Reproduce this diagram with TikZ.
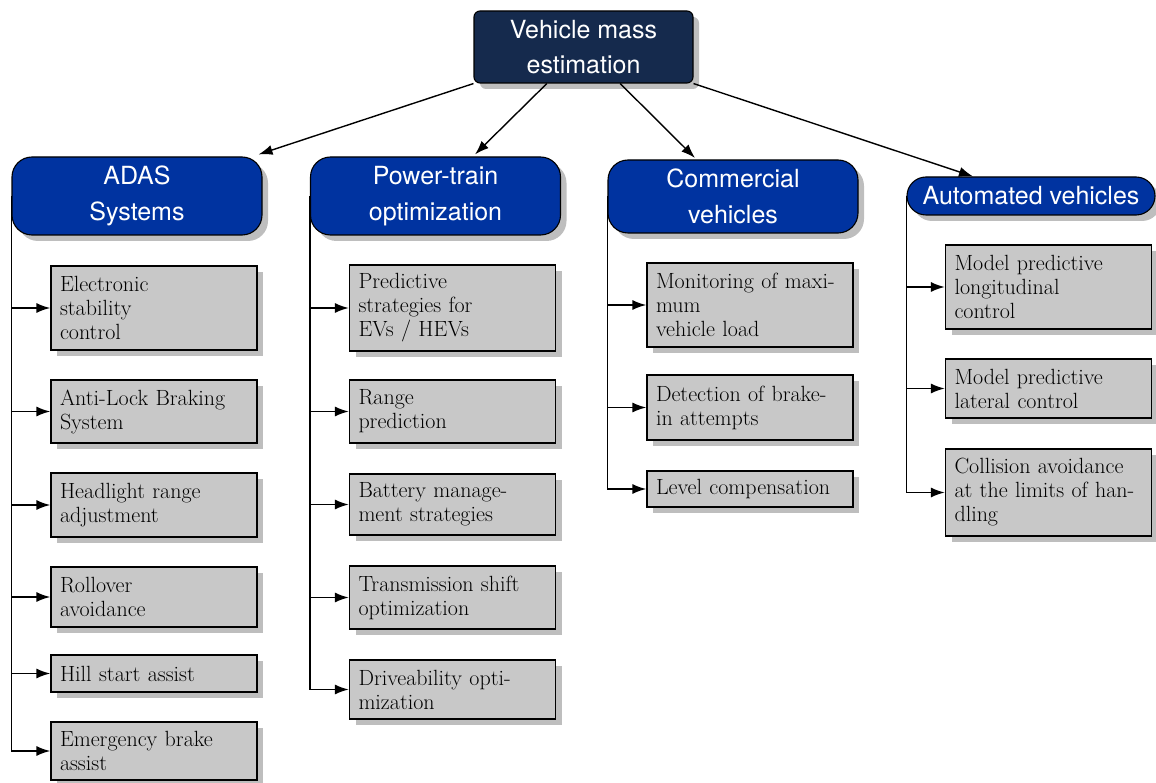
\documentclass[tikz,border=0pt]{standalone}
\usepackage{fontspec}
\newfontfamily\headfont{TeX Gyre Heros}
\usetikzlibrary{arrows.meta,shadows,calc}
\definecolor{topnavy}{HTML}{152A4D}
\definecolor{catblue}{HTML}{0033A0}
\definecolor{leafgray}{HTML}{C8C8C8}
\definecolor{shadowgray}{HTML}{BEBEBE}

\begin{document}
\begin{tikzpicture}[x=1pt,y=-1pt,
  boxshadow/.style={drop shadow={shadow xshift=6pt, shadow yshift=-6pt, fill=shadowgray, opacity=1}},
  rootbox/.style={draw=black, line width=1.1pt, fill=topnavy, rounded corners=6pt,
    text=white, font=\headfont\fontsize{25}{35}\selectfont, align=center,
    inner sep=0pt, minimum width=219pt, minimum height=72pt, boxshadow},
  catbox/.style={draw=black, line width=1.1pt, fill=catblue, rounded corners=20pt,
    text=white, font=\headfont\fontsize{25}{36}\selectfont, align=center,
    inner sep=0pt, minimum width=250pt, boxshadow},
  leafbox/.style={draw=black, line width=1.1pt, fill=leafgray,
    font=\fontsize{22}{24}\selectfont, align=left, text width=188pt,
    inner xsep=9pt, inner ysep=2pt, boxshadow},
  tip/.style={-{Latex[length=14pt,width=10pt]}},
  link/.style={line width=1.4pt, tip},
  trunk/.style={line width=1.8pt},
  branch/.style={line width=1.8pt, tip}
]
\useasboundingbox (0,0) rectangle (1156,783);

% root
\node[rootbox] (root) at (583.5,47) {Vehicle mass\\estimation};

% application areas
\node[catbox, minimum height=78pt] (adas) at (137,196) {ADAS\\Systems};
\node[catbox, minimum height=78pt] (ptrain) at (435.5,196) {Power-train\\optimization};
\node[catbox, minimum height=73pt] (comm) at (733,196.5) {Commercial\\vehicles};
\node[catbox, rounded corners=19pt, minimum height=38pt, minimum width=248pt] (autov) at (1031,196) {Automated vehicles};

% ADAS functions
\node[leafbox, minimum height=84pt] (a1) at (154,308) {Electronic\\stability\\control};
\node[leafbox, minimum height=63pt] (a2) at (154,411.5) {Anti-Lock Braking\\System};
\node[leafbox, minimum height=64pt] (a3) at (154,505) {Headlight range\\adjustment};
\node[leafbox, minimum height=60pt] (a4) at (154,597) {Rollover\\avoidance};
\node[leafbox, minimum height=37pt] (a5) at (154,673.5) {Hill start assist};
\node[leafbox, minimum height=58pt] (a6) at (154,751) {Emergency brake\\assist};

% power-train functions
\node[leafbox, minimum height=86pt] (p1) at (452.5,308) {Predictive\\strategies for\\EVs / HEVs};
\node[leafbox, minimum height=63pt] (p2) at (452.5,411.5) {Range\\prediction};
\node[leafbox, minimum height=61pt] (p3) at (452.5,504.5) {Battery manage-\\ment strategies};
\node[leafbox, minimum height=63pt] (p4) at (452.5,597.5) {Transmission shift\\optimization};
\node[leafbox, minimum height=59pt] (p5) at (452.5,689.5) {Driveability opti-\\mization};

% commercial vehicle functions
\node[leafbox, minimum height=84pt] (c1) at (750,305) {Monitoring of maxi-\\mum\\vehicle load};
\node[leafbox, minimum height=65pt] (c2) at (750,407.5) {Detection of brake-\\in attempts};
\node[leafbox, minimum height=36pt] (c3) at (750,489) {Level compensation};

% automated driving functions
\node[leafbox, minimum height=84pt] (d1) at (1048.5,287) {Model predictive\\longitudinal\\control};
\node[leafbox, minimum height=59pt] (d2) at (1048.5,388.5) {Model predictive\\lateral control};
\node[leafbox, minimum height=87pt] (d3) at (1048.5,492.5) {Collision avoidance\\at the limits of han-\\dling};

% root to areas
\draw[link] (root.south west) -- ($(adas.north east)+(-4,-2)$);
\draw[link] ($(root.south west)!1/3!(root.south east)$) -- ($(ptrain.north)+(39.5,-2)$);
\draw[link] ($(root.south west)!2/3!(root.south east)$) -- ($(comm.north)+(-38,-1.5)$);
\draw[link] (root.south east) -- ($(autov.north)+(-58,0)$);

% areas to functions: one trunk per area, one arrow per function
\draw[trunk] (adas.west) -- (adas.west |- a6.west);
\draw[trunk] (ptrain.west) -- (ptrain.west |- p5.west);
\draw[trunk] (comm.west) -- (comm.west |- c3.west);
\draw[trunk] (autov.west) -- (autov.west |- d3.west);
\foreach \f in {a1,a2,a3,a4,a5,a6} \draw[branch] (adas.west |- \f.west) -- (\f.west);
\foreach \f in {p1,p2,p3,p4,p5} \draw[branch] (ptrain.west |- \f.west) -- (\f.west);
\foreach \f in {c1,c2,c3} \draw[branch] (comm.west |- \f.west) -- (\f.west);
\foreach \f in {d1,d2,d3} \draw[branch] (autov.west |- \f.west) -- (\f.west);
\end{tikzpicture}
\end{document}
